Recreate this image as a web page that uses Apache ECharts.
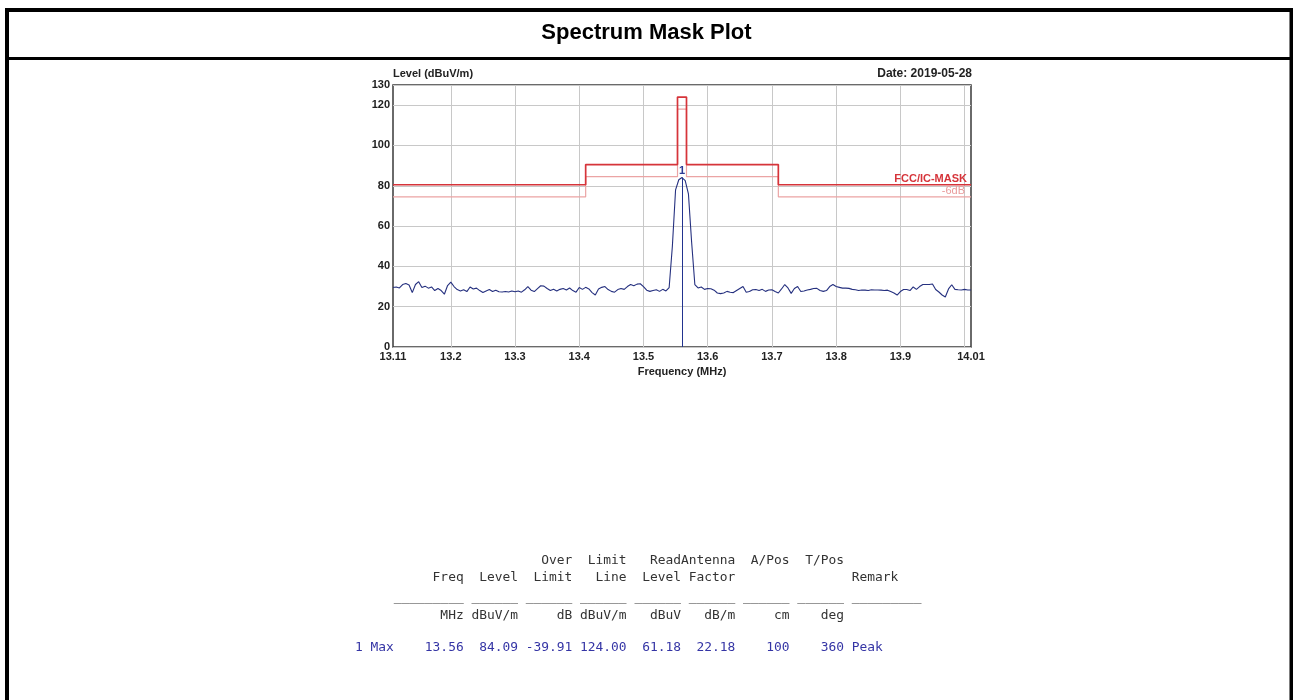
<!DOCTYPE html>
<html>
<head>
<meta charset="utf-8">
<title>Spectrum Mask Plot</title>
<script src="https://cdn.jsdelivr.net/npm/echarts@6/dist/echarts.min.js"></script>
<style>
  html, body { margin: 0; padding: 0; background: #fff; }
  #chart { width: 1293px; height: 700px; }
</style>
</head>
<body>
<div id="chart"></div>
<script>
// 扫频起点和步进 (MHz)
const sweepStart = 13.11;
const sweepStep = 0.005;

// 底噪 13.110 ~ 13.540 MHz
const floorLow = [
  29.5, 29.8, 29.3, 31.0, 31.5, 30.8, 27.0, 31.0, 32.4, 29.5,
  30.2, 29.2, 29.8, 28.0, 29.0, 28.0, 26.2, 30.5, 32.2, 30.0,
  28.5, 27.8, 28.4, 27.5, 29.8, 28.8, 29.2, 28.0, 27.0, 27.8,
  28.5, 27.5, 28.2, 27.4, 27.3, 27.5, 27.3, 27.8, 27.4, 27.8,
  27.2, 28.4, 30.0, 28.2, 27.5, 29.0, 30.4, 30.2, 29.0, 28.0,
  28.6, 27.8, 28.6, 29.0, 28.3, 29.3, 28.0, 27.2, 29.5, 28.6,
  29.6, 28.8, 27.0, 25.8, 28.8, 29.6, 30.0, 28.5, 27.6, 27.2,
  28.5, 29.0, 28.6, 30.0, 31.0, 30.4, 31.2, 31.4, 30.0, 28.2,
  27.6, 28.0, 28.4, 27.6, 28.6, 27.8, 29.5
];
// 载波 13.545 ~ 13.575 MHz
const peakLevels = [50, 78, 83, 84.09, 82.5, 76, 52];
// 底噪 13.580 ~ 14.010 MHz
const floorHigh = [
  31.0, 29.3, 29.8, 28.6, 29.0, 28.9, 28.2, 26.8, 26.5, 26.8,
  27.6, 27.2, 27.0, 28.0, 29.0, 30.0, 27.2, 27.5, 28.4, 28.5,
  28.0, 28.6, 27.6, 28.3, 28.4, 27.5, 26.8, 28.8, 31.0, 29.3,
  26.6, 29.0, 30.0, 27.5, 27.8, 28.3, 28.6, 29.0, 29.1, 28.0,
  27.6, 28.0, 30.0, 31.0, 30.0, 29.6, 29.2, 29.2, 29.1, 28.6,
  28.4, 28.0, 28.3, 28.2, 28.0, 28.4, 28.3, 28.3, 28.2, 28.0,
  28.2, 27.5, 26.8, 25.8, 27.5, 28.5, 28.5, 28.0, 29.8, 28.6,
  30.0, 31.0, 31.0, 31.0, 31.3, 28.5, 27.3, 25.8, 24.8, 28.8,
  30.9, 28.6, 28.4, 28.3, 28.6, 28.3, 28.3
];

// 频谱模板
const maskEdges = [13.11, 13.41, 13.553, 13.567, 13.71, 14.01];
const maskLimit = [80.5, 90.5, 124, 90.5, 80.5];
const maskMargin = [74.5, 84.5, 118, 84.5, 74.5];

// 刻度
const xGrid = [13.2, 13.3, 13.4, 13.5, 13.6, 13.7, 13.8, 13.9, 14.0];
const xLabels = [13.11, 13.2, 13.3, 13.4, 13.5, 13.6, 13.7, 13.8, 13.9, 14.01];
const yLabels = [0, 20, 40, 60, 80, 100, 120, 130];

// 结果表格
const tableHead1 = ['', '', '', 'Over', 'Limit', 'Read', 'Antenna', 'A/Pos', 'T/Pos', ''];
const tableHead2 = ['', 'Freq', 'Level', 'Limit', 'Line', 'Level', 'Factor', '', '', 'Remark'];
const tableUnits = ['', 'MHz', 'dBuV/m', 'dB', 'dBuV/m', 'dBuV', 'dB/m', 'cm', 'deg', ''];
const tableRow1 = ['1 Max', '13.56', '84.09', '-39.91', '124.00', '61.18', '22.18', '100', '360', 'Peak'];
const colWidths = [5, 9, 7, 7, 7, 7, 7, 7, 7];

const traceLevels = floorLow.concat(peakLevels, floorHigh);
const traceData = traceLevels.map((v, i) => [+(sweepStart + sweepStep * i).toFixed(3), v]);

function stepData(levels) {
  const d = levels.map((v, i) => [maskEdges[i], v]);
  d.push([maskEdges[maskEdges.length - 1], levels[levels.length - 1]]);
  return d;
}

function tableLine(cells) {
  let s = '';
  for (let i = 0; i < colWidths.length; i++) {
    s += i === 0 ? cells[i].padEnd(colWidths[i]) : cells[i].padStart(colWidths[i]);
  }
  return s + ' ' + cells[9];
}

function ruleLine() {
  let s = ' '.repeat(colWidths[0]) + '_'.repeat(colWidths[1]);
  for (let i = 2; i < colWidths.length; i++) s += ' ' + '_'.repeat(colWidths[i] - 1);
  return s + ' ' + '_'.repeat(9);
}

const markerFreq = +tableRow1[1];
const markerLevel = +tableRow1[2];

const boldFont = 'Liberation Sans, Arial, sans-serif';
const monoFont = '12.9px "DejaVu Sans Mono", monospace';
const tableLeft = 355;

function tableText(text, y, color) {
  return {
    type: 'text', x: tableLeft, y: y, silent: true,
    style: { text: text, font: monoFont, fill: color, verticalAlign: 'middle', align: 'left' }
  };
}

const chart = echarts.init(document.getElementById('chart'));

chart.setOption({
  animation: false,
  backgroundColor: '#fff',
  title: [
    {
      text: 'Spectrum Mask Plot', left: 'center', top: 22, padding: 0,
      textStyle: { fontFamily: boldFont, fontWeight: 'bold', fontSize: 22, color: '#000' }
    },
    {
      text: 'Date: 2019-05-28', right: 321, top: 68, padding: 0,
      textStyle: { fontFamily: boldFont, fontWeight: 'bold', fontSize: 12, color: '#222' }
    }
  ],
  grid: {
    left: 393, top: 85, width: 578, height: 262,
    show: true, borderColor: '#3a3a3a', borderWidth: 1.5, backgroundColor: 'transparent'
  },
  xAxis: {
    type: 'value', min: 13.11, max: 14.01,
    name: 'Frequency (MHz)', nameLocation: 'middle', nameGap: 19,
    nameTextStyle: { fontFamily: boldFont, fontWeight: 'bold', fontSize: 11, color: '#222' },
    axisLine: { show: false },
    axisTick: { show: false, customValues: xGrid },
    splitLine: { show: true, lineStyle: { color: '#c8c8c8', width: 1 } },
    axisLabel: {
      customValues: xLabels, margin: 4,
      fontFamily: boldFont, fontWeight: 'bold', fontSize: 11, color: '#222',
      formatter: v => String(+v.toFixed(2))
    }
  },
  yAxis: {
    type: 'value', min: 0, max: 130, interval: 20,
    name: 'Level (dBuV/m)', nameLocation: 'end', nameGap: 2,
    nameTextStyle: {
      fontFamily: boldFont, fontWeight: 'bold', fontSize: 11, color: '#222',
      align: 'left', verticalAlign: 'bottom'
    },
    axisLine: { show: false },
    axisTick: { show: false },
    splitLine: { show: true, lineStyle: { color: '#c8c8c8', width: 1 } },
    axisLabel: {
      customValues: yLabels, margin: 3,
      fontFamily: boldFont, fontWeight: 'bold', fontSize: 11, color: '#222'
    }
  },
  series: [
    {
      name: '-6dB', type: 'line', step: 'end', data: stepData(maskMargin),
      showSymbol: false, silent: true,
      lineStyle: { color: '#eba4a4', width: 1.2 },
      endLabel: {
        show: true, formatter: '-6dB', distance: -6, align: 'right', verticalAlign: 'bottom',
        fontFamily: boldFont, fontSize: 11, color: '#e99a9a'
      }
    },
    {
      name: 'FCC/IC-MASK', type: 'line', step: 'end', data: stepData(maskLimit),
      showSymbol: false, silent: true,
      lineStyle: { color: '#d6343a', width: 1.7 },
      endLabel: {
        show: true, formatter: 'FCC/IC-MASK', distance: -4, align: 'right', verticalAlign: 'bottom',
        fontFamily: boldFont, fontWeight: 'bold', fontSize: 11, color: '#d6343a'
      }
    },
    {
      name: 'Trace', type: 'line', data: traceData,
      showSymbol: false, silent: true,
      lineStyle: { color: '#25307f', width: 1.1 },
      markLine: {
        silent: true, symbol: ['none', 'none'],
        label: { show: false },
        lineStyle: { color: '#22338f', width: 1, type: 'solid' },
        data: [[{ coord: [markerFreq, 0] }, { coord: [markerFreq, markerLevel] }]]
      },
      markPoint: {
        silent: true, symbol: 'rect', symbolSize: [1, 1],
        itemStyle: { color: 'transparent' },
        label: {
          show: true, position: 'top', distance: 1, formatter: '1',
          fontFamily: boldFont, fontWeight: 'bold', fontSize: 11, color: '#2b3a95'
        },
        data: [{ coord: [markerFreq, markerLevel] }]
      }
    }
  ],
  graphic: [
    {
      type: 'rect', silent: true,
      shape: { x: 7, y: 10, width: 1284.5, height: 720 },
      style: { fill: 'none', stroke: '#000', lineWidth: 4 }
    },
    {
      type: 'line', silent: true,
      shape: { x1: 7, y1: 58.5, x2: 1291.5, y2: 58.5 },
      style: { stroke: '#000', lineWidth: 3 }
    },
    tableText(tableLine(tableHead1), 561, '#333'),
    tableText(tableLine(tableHead2), 578, '#333'),
    tableText(ruleLine(), 598, '#333'),
    tableText(tableLine(tableUnits), 616, '#333'),
    tableText(tableLine(tableRow1), 648, '#3535a5')
  ]
});
</script>
</body>
</html>
